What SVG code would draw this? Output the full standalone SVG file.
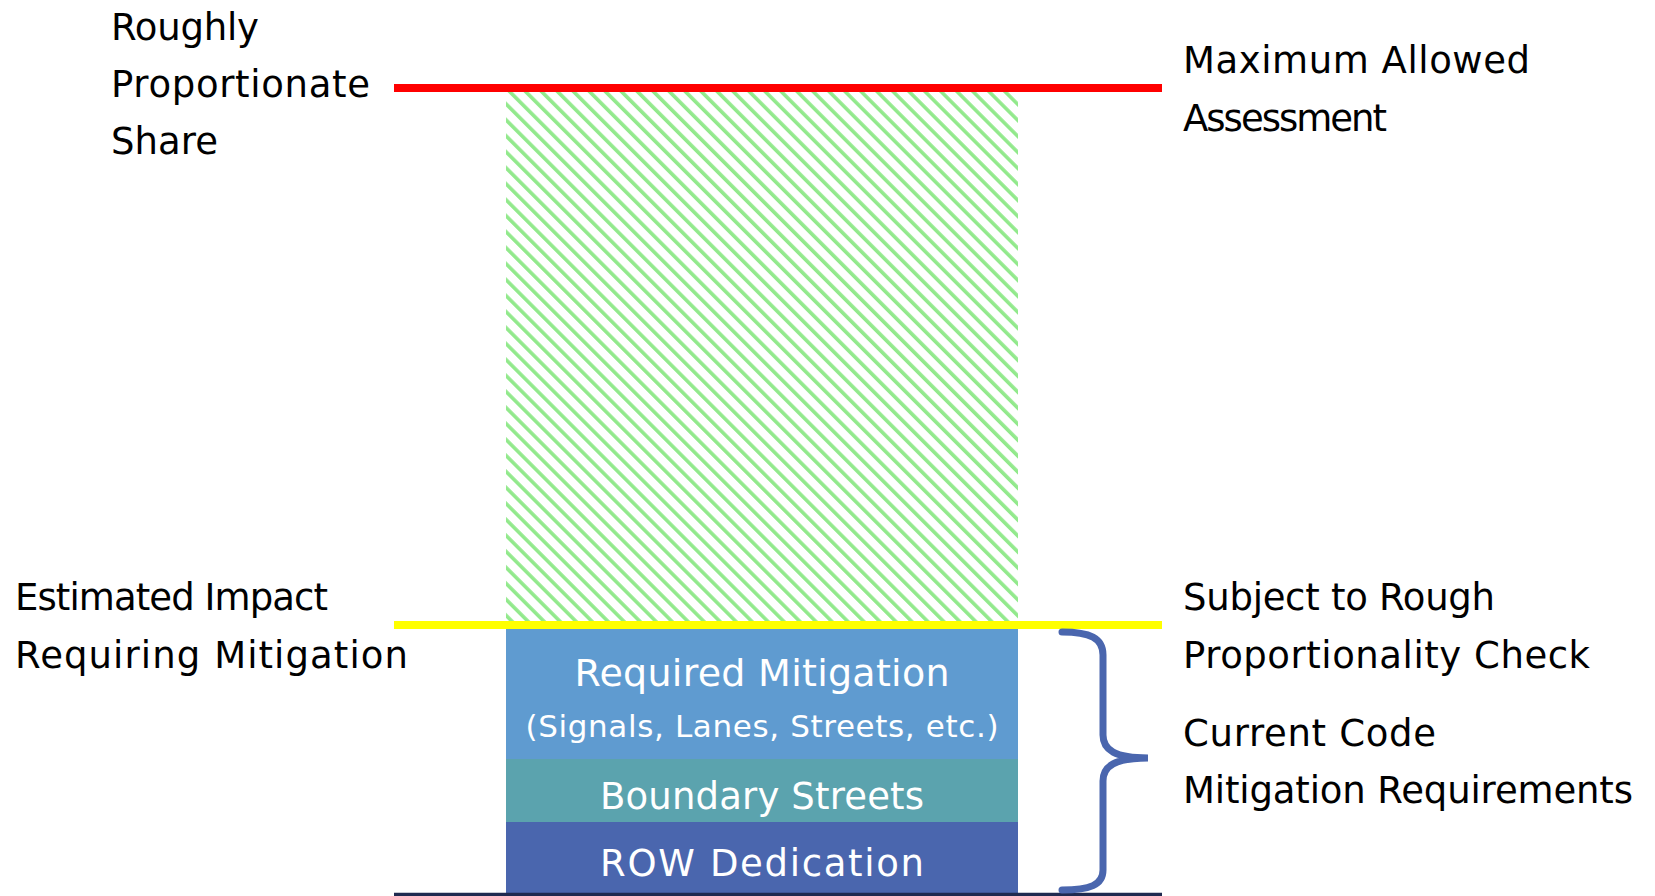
<svg xmlns="http://www.w3.org/2000/svg" width="1655" height="896" viewBox="0 0 1655 896">
<style>
.lbl{font-family:"DejaVu Sans","Liberation Sans",sans-serif;font-size:37px;fill:#000}
.box{font-family:"DejaVu Sans","Liberation Sans",sans-serif;fill:#fff;text-anchor:middle}
</style>
<defs>
<pattern id="hatch" patternUnits="userSpaceOnUse" width="11.3" height="11.3" patternTransform="rotate(-45)">
<rect x="0" y="0" width="3.6" height="11.3" fill="#92e98c"/>
</pattern>
</defs>
<rect width="1655" height="896" fill="#fff"/>
<g id="hatched-area">
<rect x="506" y="92" width="512" height="529" fill="url(#hatch)"/>
</g>
<g id="required-mitigation">
<rect x="506" y="629" width="512" height="130" fill="#5f9bd0"/>
<text class="box" x="762" y="686" font-size="38" textLength="375">Required Mitigation</text>
<text class="box" x="762" y="737" font-size="31" textLength="473">(Signals, Lanes, Streets, etc.)</text>
</g>
<g id="boundary-streets">
<rect x="506" y="759" width="512" height="63" fill="#5ba3ae"/>
<text class="box" x="762" y="809" font-size="37" textLength="324">Boundary Streets</text>
</g>
<g id="row-dedication">
<rect x="506" y="822" width="512" height="71" fill="#4a66ae"/>
<text class="box" x="762" y="876" font-size="37" textLength="324">ROW Dedication</text>
</g>
<g id="connectors">
<line x1="394" y1="88" x2="1162" y2="88" stroke="#ff0000" stroke-width="8"/>
<line x1="394" y1="625" x2="1162" y2="625" stroke="#ffff00" stroke-width="8"/>
<line x1="394" y1="894.5" x2="1162" y2="894.5" stroke="#1f2a50" stroke-width="3.5"/>
<path d="M1062,632 C1090,632 1103,638 1103,655 L1103,735 C1103,750 1115,758 1148,758 C1115,758 1103,766 1103,781 L1103,870 C1103,885 1090,890 1062,890" fill="none" stroke="#4a66ae" stroke-width="7" stroke-linecap="round"/>
</g>
<g id="label-roughly">
<text class="lbl" x="111" y="40" textLength="148">Roughly</text>
<text class="lbl" x="111" y="97" textLength="259">Proportionate</text>
<text class="lbl" x="111" y="154" textLength="107">Share</text>
</g>
<g id="label-maximum">
<text class="lbl" x="1183" y="73" textLength="347">Maximum Allowed</text>
<text class="lbl" x="1183" y="131" textLength="204">Assessment</text>
</g>
<g id="label-estimated">
<text class="lbl" x="15" y="610" textLength="313">Estimated Impact</text>
<text class="lbl" x="15" y="668" textLength="393">Requiring Mitigation</text>
</g>
<g id="label-subject">
<text class="lbl" x="1183" y="610" textLength="312">Subject to Rough</text>
<text class="lbl" x="1183" y="668" textLength="407">Proportionality Check</text>
</g>
<g id="label-current">
<text class="lbl" x="1183" y="746" textLength="253">Current Code</text>
<text class="lbl" x="1183" y="803" textLength="450">Mitigation Requirements</text>
</g>
</svg>
